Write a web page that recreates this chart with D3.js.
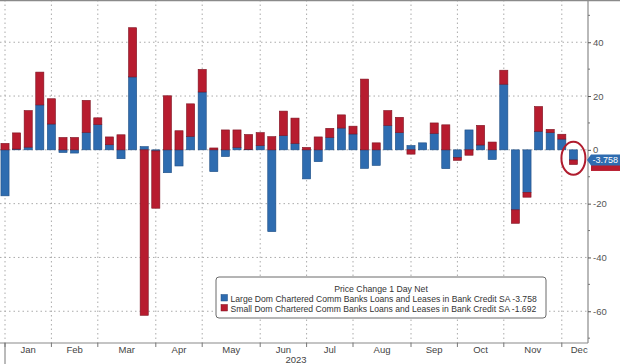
<!DOCTYPE html>
<html>
<head>
<meta charset="utf-8">
<script src="https://cdn.jsdelivr.net/npm/d3@7"></script>
<style>
  html, body { margin: 0; padding: 0; background: #fff; }
  svg { display: block; font-family: "Liberation Sans", Arial, sans-serif; }
</style>
</head>
<body>
<svg id="chart" width="620" height="364"></svg>
<script>
// ---- data ----
const weeks = [
  "2023-01-04","2023-01-11","2023-01-18","2023-01-25",
  "2023-02-01","2023-02-08","2023-02-15","2023-02-22",
  "2023-03-01","2023-03-08","2023-03-15","2023-03-22","2023-03-29",
  "2023-04-05","2023-04-12","2023-04-19","2023-04-26",
  "2023-05-03","2023-05-10","2023-05-17","2023-05-24","2023-05-31",
  "2023-06-07","2023-06-14","2023-06-21","2023-06-28",
  "2023-07-05","2023-07-12","2023-07-19","2023-07-26",
  "2023-08-02","2023-08-09","2023-08-16","2023-08-23","2023-08-30",
  "2023-09-06","2023-09-13","2023-09-20","2023-09-27",
  "2023-10-04","2023-10-11","2023-10-18","2023-10-25",
  "2023-11-01","2023-11-08","2023-11-15","2023-11-22","2023-11-29",
  "2023-12-06","2023-12-13"
];
const largeBanks = [
  -17.1, 0.3, 1.0, 16.7,
  9.6, -1.0, -1.2, 6.5,
  9.4, 1.9, -3.3, 27.1, 1.2,
  -0.4, -8.5, -6.0, 5.0,
  21.5, -8.1, -2.5, 0.9, 0.2,
  1.6, -30.4, 5.3, 2.4,
  -10.8, -4.4, 4.6, 8.1,
  5.9, -6.9, -5.8, 9.1, 6.4,
  1.6, 2.6, 6.1, -7.0,
  -2.9, 7.4, 1.8, -3.6,
  24.4, -22.3, -15.8, 6.9, 6.4,
  4.0, -3.758
];
const smallBanks = [
  2.4, 6.0, 13.6, 12.2,
  9.4, 4.6, 4.6, 11.9,
  2.5, 2.9, 5.6, 18.3, -61.5,
  -21.3, 20.1, 7.1, 12.1,
  8.4, 0.7, 7.4, 6.5, 5.5,
  4.8, 4.9, 9.1, 9.4,
  0.9, 4.8, 3.4, 4.9,
  2.9, 26.3, 2.6, 5.5, 5.7,
  -1.6, 0.0, 3.9, 9.3,
  -1.0, -2.0, 7.3, 2.9,
  5.2, -5.0, -1.8, 9.2, 1.2,
  1.8, -1.692
];
const monthLabels = ["Jan","Feb","Mar","Apr","May","Jun","Jul","Aug","Sep","Oct","Nov","Dec"];
const monthFirstWeeks = ["2023-01-04","2023-02-01","2023-03-01","2023-04-05","2023-05-03","2023-06-07",
                         "2023-07-05","2023-08-02","2023-09-06","2023-10-04","2023-11-01","2023-12-06"];
const yTicks = [-60, -40, -20, 0, 20, 40];
const yMinorTicks = [-70, -50, -30, -10, 10, 30, 50];
const seriesNames = [
  "Large Dom Chartered Comm Banks Loans and Leases in Bank Credit SA",
  "Small Dom Chartered Comm Banks Loans and Leases in Bank Credit SA"
];
const legendTitle = "Price Change 1 Day Net";
const yearLabel = "2023";

// ---- setup ----
const colors = { large: "#2e6cb0", small: "#b71c2f" };
const strokes = { large: "#1d4d84", small: "#7d1220" };
const svg = d3.select("#chart");
const plotRight = 588, plotBottom = 343, plotTop = 0;

const step = 11.6;
const x = d3.scaleBand().domain(weeks)
  .range([5 - step / 2, 5 - step / 2 + step * weeks.length])
  .paddingInner(0.3).paddingOuter(0.15);
const cx = d => x(d) + x.bandwidth() / 2;

const y = d3.scaleLinear().domain([-71.8, 55.7]).range([plotBottom, plotTop]);

const table = weeks.map((w, i) => ({ week: w, large: largeBanks[i], small: smallBanks[i] }));
const stacked = d3.stack().keys(["large", "small"]).offset(d3.stackOffsetDiverging)(table);

// ---- gridlines ----
const grid = svg.append("g");
grid.selectAll("line.h").data(yTicks).join("line")
  .attr("x1", 0).attr("x2", plotRight)
  .attr("y1", d => y(d)).attr("y2", d => y(d))
  .attr("stroke", "#aaa").attr("stroke-width", 1).attr("stroke-dasharray", "1.5,3");
grid.selectAll("line.v").data(monthFirstWeeks).join("line")
  .attr("x1", d => cx(d)).attr("x2", d => cx(d))
  .attr("y1", plotTop).attr("y2", plotBottom)
  .attr("stroke", "#aaa").attr("stroke-width", 1).attr("stroke-dasharray", "1.5,3");

// ---- bars ----
svg.append("g").selectAll("g").data(stacked).join("g")
  .attr("fill", s => colors[s.key]).attr("stroke", s => strokes[s.key]).attr("stroke-width", 0.6)
  .selectAll("rect").data(s => s).join("rect")
  .attr("x", d => x(d.data.week))
  .attr("width", x.bandwidth())
  .attr("y", d => y(Math.max(d[0], d[1])))
  .attr("height", d => Math.abs(y(d[0]) - y(d[1])));

// ---- frame ----
svg.append("line").attr("x1", 0).attr("x2", 620).attr("y1", 0.5).attr("y2", 0.5)
  .attr("stroke", "#8a8a8a").attr("stroke-width", 1.5);
svg.append("line").attr("x1", 0).attr("x2", plotRight).attr("y1", plotBottom).attr("y2", plotBottom)
  .attr("stroke", "#8a8a8a").attr("stroke-width", 1.2);

// ---- right y axis ----
const yAxis = d3.axisRight(y).tickValues(yTicks).tickSize(3).tickPadding(2)
  .tickFormat(d => String(d));
const ya = svg.append("g").attr("transform", `translate(${plotRight},0)`).call(yAxis);
ya.select(".domain").attr("stroke", "#8a8a8a").attr("stroke-width", 1.2)
  .attr("d", `M0,${plotTop}V${plotBottom}`);
ya.selectAll(".tick line").attr("stroke", "#555");
ya.selectAll(".tick text").attr("fill", "#555").attr("font-size", "9.5px")
  .attr("font-family", "Liberation Sans, Arial, sans-serif");
ya.append("g").selectAll("line").data(yMinorTicks.filter(v => y(v) > 2 && y(v) < plotBottom - 2)).join("line")
  .attr("x1", 0).attr("x2", 2).attr("y1", d => y(d)).attr("y2", d => y(d)).attr("stroke", "#777");

// ---- bottom axis ticks & labels ----
const xa = svg.append("g");
xa.selectAll("line").data(monthFirstWeeks).join("line")
  .attr("x1", d => cx(d)).attr("x2", d => cx(d))
  .attr("y1", plotBottom).attr("y2", plotBottom + 4)
  .attr("stroke", "#777");
xa.append("line").attr("x1", cx(weeks[0])).attr("x2", cx(weeks[0]))
  .attr("y1", plotBottom).attr("y2", 364).attr("stroke", "#777");
const monthIdx = monthFirstWeeks.map(w => weeks.indexOf(w));
xa.selectAll("text").data(monthLabels).join("text")
  .attr("x", (d, i) => {
    const a = cx(weeks[monthIdx[i]]);
    const b = i < monthIdx.length - 1 ? cx(weeks[monthIdx[i + 1]]) : a + 3 * step;
    return (a + b) / 2;
  })
  .attr("y", 353).attr("text-anchor", "middle")
  .attr("font-size", "9.5px").attr("fill", "#444").text(d => d);
xa.append("text").attr("x", 296).attr("y", 363).attr("text-anchor", "middle")
  .attr("font-size", "9.5px").attr("fill", "#444").text(yearLabel);

// ---- legend ----
const lg = svg.append("g");
lg.append("rect").attr("x", 216).attr("y", 277).attr("width", 330).attr("height", 41)
  .attr("rx", 3).attr("fill", "#fff").attr("stroke", "#6b6b6b").attr("stroke-width", 1);
lg.append("text").attr("x", 381).attr("y", 291.5).attr("text-anchor", "middle")
  .attr("font-size", "8.7px").attr("fill", "#333").text(legendTitle);
const lastLarge = largeBanks[largeBanks.length - 1], lastSmall = smallBanks[smallBanks.length - 1];
const rows = [
  { key: "large", label: seriesNames[0] + " " + lastLarge.toFixed(3) },
  { key: "small", label: seriesNames[1] + " " + lastSmall.toFixed(3) }
];
rows.forEach((r, i) => {
  lg.append("rect").attr("x", 221).attr("y", 294.5 + i * 10).attr("width", 6.5).attr("height", 6.5)
    .attr("fill", colors[r.key]).attr("stroke", strokes[r.key]).attr("stroke-width", 0.5);
  lg.append("text").attr("x", 230.5).attr("y", 301.5 + i * 10)
    .attr("font-size", "8.6px").attr("fill", "#333").text(r.label);
});

// ---- last value tags ----
const tags = svg.append("g");
const yLarge = y(lastLarge);
tags.append("rect").attr("x", 591).attr("y", yLarge + 2.5).attr("width", 32).attr("height", 8.5)
  .attr("fill", colors.small);
tags.append("path")
  .attr("d", `M${plotRight - 1},${yLarge} L${591},${yLarge - 5.5} H620 V${yLarge + 5.5} H591 Z`)
  .attr("fill", colors.large);
tags.append("text").attr("x", 592.5).attr("y", yLarge + 3.3)
  .attr("font-size", "9px").attr("fill", "#fff").text(lastLarge.toFixed(3));

// ---- annotation circle ----
const lastW = weeks[weeks.length - 1];
svg.append("ellipse").attr("cx", cx(lastW)).attr("cy", y((lastLarge + lastSmall) / 2) + 1)
  .attr("rx", 12).attr("ry", 16.5)
  .attr("fill", "none").attr("stroke", "#b01c2e").attr("stroke-width", 2);
</script>
</body>
</html>
